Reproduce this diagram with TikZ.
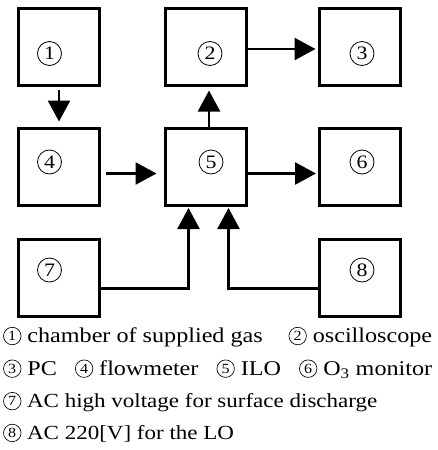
\documentclass[tikz,border=0pt]{standalone}
\usepackage{fontspec}
\setmainfont[FakeStretch=1.15]{Liberation Serif}
\usetikzlibrary{arrows.meta,calc}
\newcommand{\lc}[1]{\tikz[baseline=-6.5pt,x=1pt,y=1pt]\node[circle,draw,line width=0.65pt,inner sep=0pt,minimum size=17.5pt,anchor=center,font=\fontsize{14}{14}\selectfont](lcn) at (0,0){#1};}
\tikzset{
  box/.style={draw, line width=3pt, minimum width=81pt, minimum height=77pt, anchor=north west, inner sep=0pt},
  num/.style={circle, draw, line width=0.8pt, minimum size=24pt, inner sep=0pt, font=\fontsize{19}{19}\selectfont},
  arr/.style={line width=2.6pt, -{Triangle[width=22pt,length=21pt]}},
  legend/.style={anchor=west, inner sep=0pt, font=\fontsize{20}{20}\selectfont},
  legendb/.style={legend, font=\fontsize{21}{21}\selectfont}
}
\newcommand{\gap}{\hspace{10pt plus 1fil}}
\begin{document}
\begin{tikzpicture}[x=1pt,y=-1pt]
\useasboundingbox (0,0) rectangle (438,450);
% boxes
\node[box] (b1) at (16.5,6.5) {};
\node[box] (b2) at (163.5,6.5) {};
\node[box] (b3) at (317.5,6.5) {};
\node[box] (b4) at (16.5,126.5) {};
\node[box] (b5) at (163.5,126.5) {};
\node[box] (b6) at (318,126.5) {};
\node[box] (b7) at (16.5,237.5) {};
\node[box] (b8) at (318,237.5) {};
% numbers
\node[num] (n1) at (49.5,53.5) {1};
\node[num] (n2) at (210,53.5) {2};
\node[num] (n3) at (362,53.5) {3};
\node[num] (n4) at (49.5,162) {4};
\node[num] (n5) at (211,162) {5};
\node[num] (n6) at (362,162) {6};
\node[num] (n7) at (49.5,270) {7};
\node[num] (n8) at (362,270) {8};
% arrows
\draw[arr, shorten <=3pt, shorten >=5pt] ($(b1.south)+(0.5,0)$) -- ($(b4.north)+(0.5,0)$);
\draw[arr, shorten >=4pt] ($(b5.north)+(3.5,0)$) -- ($(b2.south)+(3.5,0)$);
\draw[arr, shorten >=2pt] ($(b2.east)+(0,2.5)$) -- ($(b3.west)+(0,2.5)$);
\draw[arr, shorten <=5pt, shorten >=7pt] ($(b4.east)+(0,7)$) -- ($(b5.west)+(0,7)$);
\draw[arr, shorten >=2pt] ($(b5.east)+(0,7)$) -- ($(b6.west)+(0,7)$);
\draw[arr, shorten >=1.5pt] ($(b7.east)+(0,11)$) -| ($(b5.south)+(-17,0)$);
\draw[arr, shorten >=1.5pt] ($(b8.west)+(0,11)$) -| ($(b5.south)+(23,0)$);
% legend
\node[legendb] (l1) at (3,337) {\makebox[429pt][s]{\lc{1} chamber of supplied gas\gap\lc{2} oscilloscope}};
\node[legendb] (l2) at (3,369) {\makebox[429pt][s]{\lc{3} PC\gap\lc{4} flowmeter\gap\lc{5} ILO\gap\lc{6} O\textsubscript{3} monitor}};
\node[legend] (l3) at (3,402) {\lc{7} AC high voltage for surface discharge};
\node[legend] (l4) at (3,433) {\lc{8} AC 220[V] for the LO};
\end{tikzpicture}
\end{document}
